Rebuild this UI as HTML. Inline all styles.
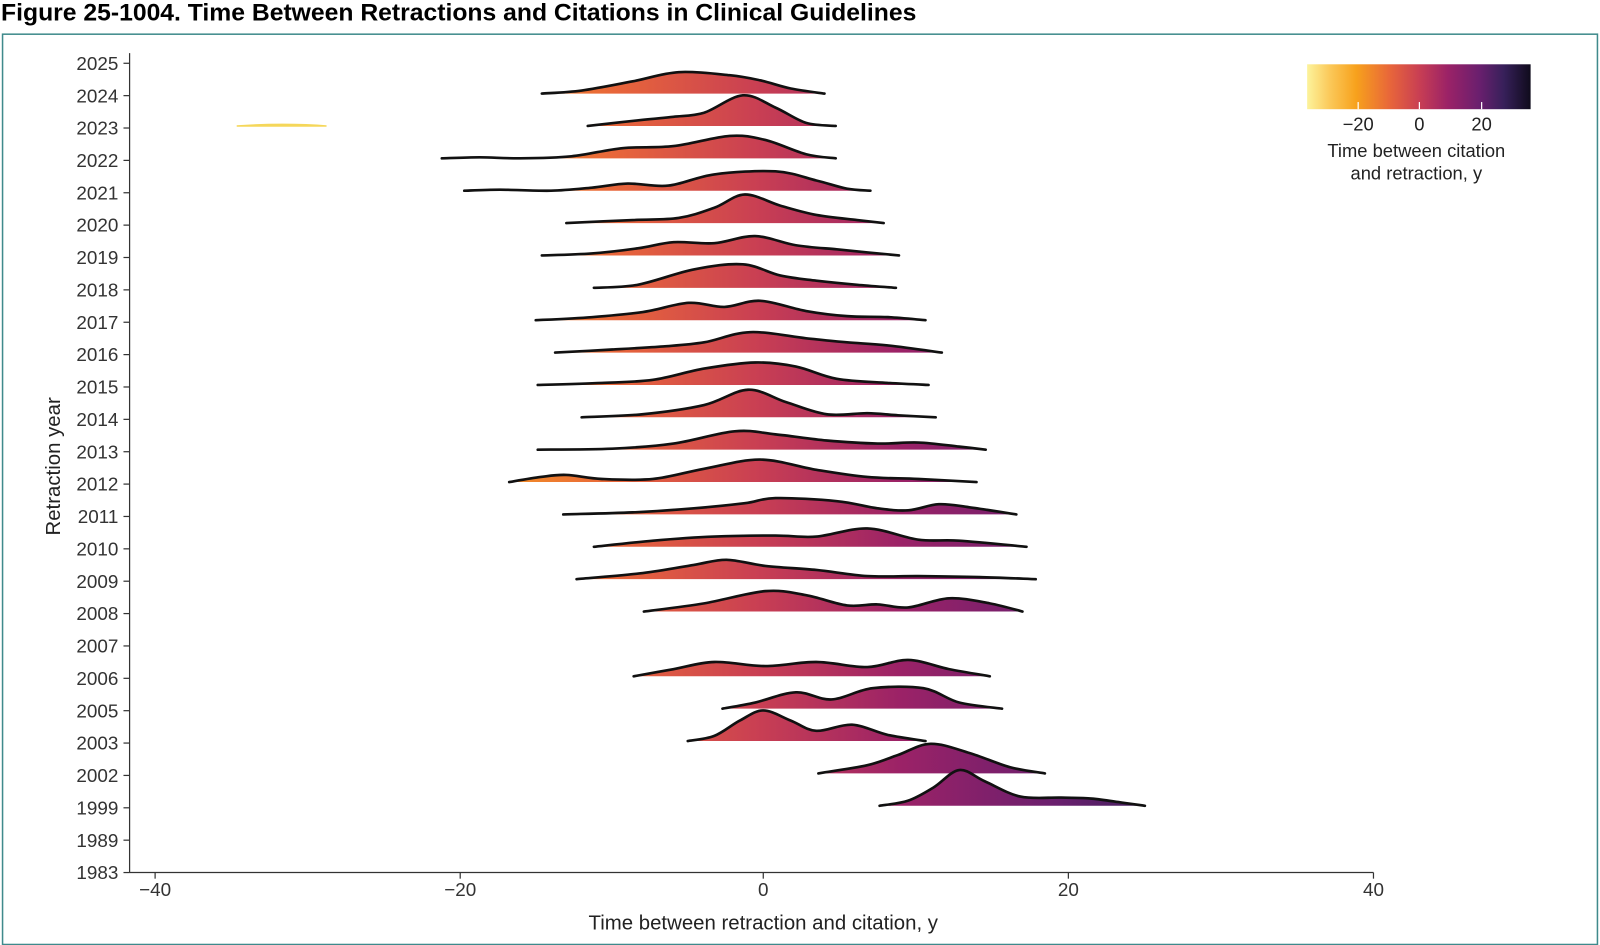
<!DOCTYPE html>
<html><head><meta charset="utf-8"><style>
body{margin:0;background:#fff;width:1600px;height:945px;overflow:hidden;font-family:"Liberation Sans",Arial,sans-serif}
svg{display:block}
</style></head><body>
<svg id="s" width="1600" height="945" viewBox="0 0 1568 926" preserveAspectRatio="none" xmlns="http://www.w3.org/2000/svg" font-family="Liberation Sans, Arial, sans-serif">
<defs>
<linearGradient id="cb" gradientUnits="userSpaceOnUse" x1="1281" y1="0" x2="1500" y2="0">
<stop offset="0" stop-color="#fcf39c"/><stop offset="0.1" stop-color="#fbc95a"/><stop offset="0.22" stop-color="#f7a11c"/><stop offset="0.37" stop-color="#e8663a"/><stop offset="0.5" stop-color="#c93f53"/><stop offset="0.63" stop-color="#9b2267"/><stop offset="0.77" stop-color="#6a1f6e"/><stop offset="0.88" stop-color="#37205a"/><stop offset="1" stop-color="#0f0b1c"/>
</linearGradient>
<linearGradient id="pg" gradientUnits="userSpaceOnUse" x1="202" y1="0" x2="1283" y2="0">
<stop offset="0" stop-color="#fcf39c"/><stop offset="0.1" stop-color="#fbc95a"/><stop offset="0.22" stop-color="#f7a11c"/><stop offset="0.37" stop-color="#e8663a"/><stop offset="0.5" stop-color="#c93f53"/><stop offset="0.63" stop-color="#9b2267"/><stop offset="0.77" stop-color="#6a1f6e"/><stop offset="0.88" stop-color="#37205a"/><stop offset="1" stop-color="#0f0b1c"/>
</linearGradient>
</defs>
<text x="1" y="20" font-size="24" font-weight="bold" fill="#000" textLength="897" lengthAdjust="spacingAndGlyphs">Figure 25-1004. Time Between Retractions and Citations in Clinical Guidelines</text>
<rect x="2.5" y="33.5" width="1563" height="892" fill="none" stroke="#3f8a8c" stroke-width="1.5"/>
<g id="ridges"></g>
<g stroke="#333" stroke-width="1.2" fill="none">
<line x1="127" y1="52" x2="127" y2="855"/><line x1="127" y1="855" x2="1346" y2="855"/>
</g>
<g id="axes" font-size="18.5" fill="#333"></g>
<text x="748" y="911" font-size="20" fill="#222" text-anchor="middle">Time between retraction and citation, y</text>
<text transform="translate(59,457) rotate(-90)" font-size="20" fill="#222" text-anchor="middle">Retraction year</text>
<rect x="1281" y="63" width="219" height="44" fill="url(#cb)"/>
<g stroke="#fff" stroke-width="1.2"><line x1="1331" y1="100" x2="1331" y2="107"/><line x1="1391" y1="100" x2="1391" y2="107"/><line x1="1452" y1="100" x2="1452" y2="107"/></g>
<g font-size="18" fill="#222" text-anchor="middle"><text x="1331" y="128">−20</text><text x="1391" y="128">0</text><text x="1452" y="128">20</text>
<text x="1388" y="154">Time between citation</text><text x="1388" y="176">and retraction, y</text></g>
</svg>
<script>
var NS="http://www.w3.org/2000/svg";
var years=["2025","2024","2023","2022","2021","2020","2019","2018","2017","2016","2015","2014","2013","2012","2011","2010","2009","2008","2007","2006","2005","2003","2002","1999","1989","1983"];
var ax=document.getElementById("axes");
function el(t,a,p,txt){var e=document.createElementNS(NS,t);for(var k in a)e.setAttribute(k,a[k]);if(txt!=null)e.textContent=txt;p.appendChild(e);return e;}
years.forEach(function(y,i){var yy=62+31.72*i;el("text",{x:116,y:yy+6.5,"text-anchor":"end"},ax,y);el("line",{x1:121,y1:yy,x2:127,y2:yy,stroke:"#333","stroke-width":1.2},ax);});
[[-40,152],[-20,451],[0,748],[20,1047],[40,1346]].forEach(function(t){el("line",{x1:t[1],y1:855,x2:t[1],y2:861,stroke:"#333","stroke-width":1.2},ax);el("text",{x:t[1],y:878,"text-anchor":"middle"},ax,t[0]<0?"−"+(-t[0]):""+t[0]);});
var R={
1:[[531,0],[570,3],[620,12],[665,21],[715,18],[745,13],[775,5],[808,0]],
2:[[576,0],[630,6],[660,9],[690,13],[728,30],[760,18],[790,3],[819,0]],
3:[[433,0],[470,1],[510,0],[560,2],[610,10],[660,12],[715,22],[750,18],[790,4],[819,0]],
4:[[455,0],[490,1],[540,0],[580,3],[615,7],[655,5],[700,16],[760,19],[800,10],[830,2],[853,0]],
5:[[555,0],[620,3],[665,5],[700,15],[730,28],[765,17],[800,8],[840,3],[866,0]],
6:[[531,0],[580,2],[625,7],[660,13],[700,12],[740,19],[780,10],[820,6],[850,3],[881,0]],
7:[[582,0],[625,3],[680,18],[728,23],[765,12],[800,7],[840,3],[878,0]],
8:[[525,0],[580,3],[630,8],[675,17],[710,13],[745,19],[790,9],[830,4],[870,3],[907,0]],
9:[[544,0],[600,3],[650,6],[690,10],[735,20],[790,14],[830,10],[870,7],[923,0]],
10:[[527,0],[590,2],[640,5],[690,16],[740,22],[780,18],[820,6],[870,2],[910,0]],
11:[[570,0],[630,3],[690,12],[733,27],[770,15],[810,3],[850,4],[880,2],[917,0]],
12:[[527,0],[600,1],[660,6],[720,18],[760,15],[810,9],[860,6],[900,7],[940,3],[966,0]],
13:[[499,0],[530,5],[555,7],[590,3],[640,3],[690,13],[745,22],[800,12],[850,5],[900,3],[957,0]],
14:[[552,0],[620,2],[680,6],[730,11],[760,16],[820,13],[860,6],[890,4],[920,10],[950,7],[996,0]],
15:[[582,0],[640,6],[700,10],[760,11],[800,10],[850,18],[900,7],[940,6],[1006,0]],
16:[[565,0],[630,6],[680,14],[712,19],[750,13],[800,9],[850,3],[900,3],[960,2],[1015,0]],
17:[[631,0],[690,8],[750,20],[790,16],[830,6],[860,7],[890,4],[930,13],[970,8],[1002,0]],
19:[[621,0],[660,7],[700,14],[750,10],[800,14],[850,9],[890,16],[930,7],[970,0]],
20:[[708,0],[740,6],[780,16],[815,9],[855,20],[905,20],[940,6],[982,0]],
21:[[674,0],[700,5],[725,20],[748,30],[775,20],[800,10],[835,16],[870,6],[907,0]],
22:[[802,0],[850,8],[880,18],[912,29],[950,20],[990,6],[1024,0]],
23:[[862,0],[890,5],[915,18],[940,35],[965,24],[1000,9],[1040,8],[1070,7],[1100,3],[1122,0]]
};
function spline(p,b){var d="M"+p[0][0]+","+(b-p[0][1]);for(var i=0;i<p.length-1;i++){var p0=p[i-1]||p[i],p1=p[i],p2=p[i+1],p3=p[i+2]||p[i+1];
var c1x=p1[0]+(p2[0]-p0[0])/6,c1y=b-(p1[1]+(p2[1]-p0[1])/6),c2x=p2[0]-(p3[0]-p1[0])/6,c2y=b-(p2[1]-(p3[1]-p1[1])/6);
d+=" C"+c1x.toFixed(1)+","+c1y.toFixed(1)+" "+c2x.toFixed(1)+","+c2y.toFixed(1)+" "+p2[0]+","+(b-p2[1]);}return d;}
var g=document.getElementById("ridges");
var order=Object.keys(R).map(Number).sort(function(a,b){return a-b;});
order.forEach(function(i){var b=62+31.72*i-2;var d=spline(R[i],b);
el("path",{d:d+" Z",fill:"url(#pg)",stroke:"none"},g);
el("path",{d:d,fill:"none",stroke:"#111","stroke-width":2.6,"stroke-linejoin":"round","stroke-linecap":"round"},g);});
var by=62+31.72*2-2;
el("path",{d:"M232,"+by+" C260,"+(by-2)+" 295,"+(by-2)+" 320,"+by+" Z",fill:"#f5d75a",stroke:"#f5d75a","stroke-width":1.5},g);
</script>
</body></html>
